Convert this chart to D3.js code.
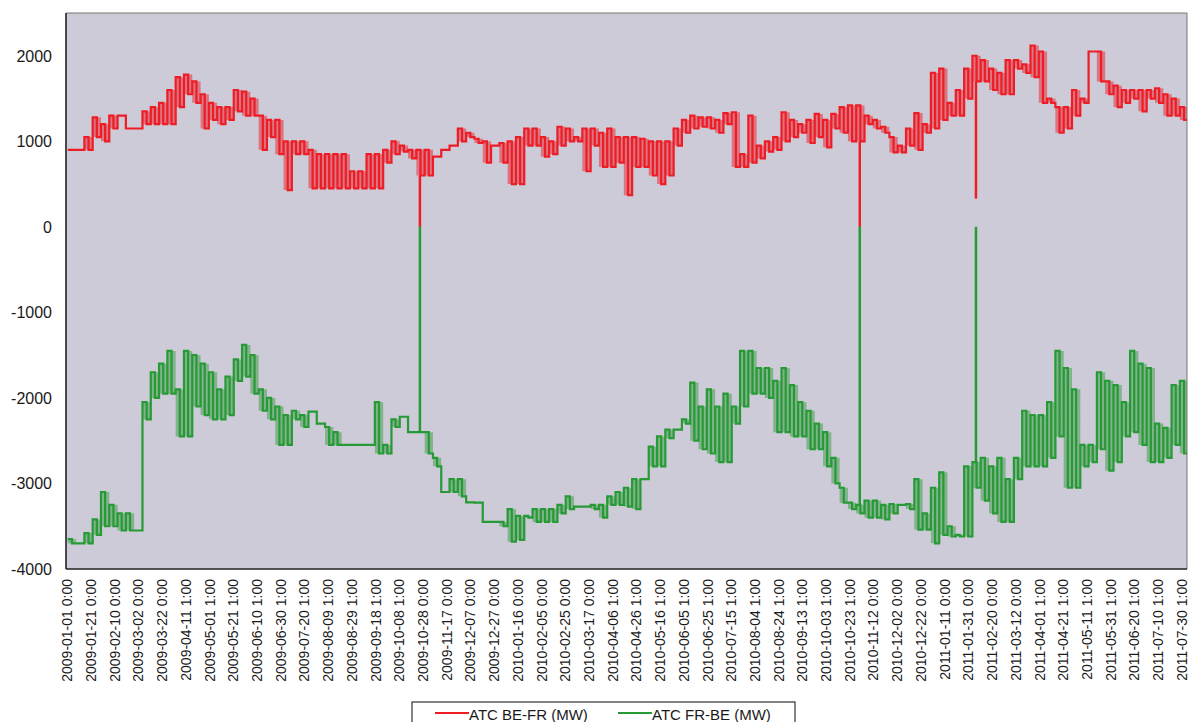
<!DOCTYPE html>
<html>
<head>
<meta charset="utf-8">
<script src="https://cdn.jsdelivr.net/npm/d3@7"></script>
<style>
  body { margin: 0; background: #fff; }
  svg { display: block; font-family: "Liberation Sans", Arial, sans-serif; }
</style>
</head>
<body>
<svg id="chart" width="1189" height="722"></svg>
<script>
// weekly bins, low / high value seen inside each week
const binStart = '2009-01-01';
const binDays = 7;

const beFrLo = [
  900, 900, 900, 1050, 1000, 1150, 1300, 1150, 1150, 1200,
  1200, 1200, 1200, 1400, 1550, 1450, 1150, 1250, 1200, 1250,
  1350, 1300, 1300, 900, 1050, 850, 430, 850, 850, 450,
  450, 450, 450, 450, 450, 450, 450, 450, 750, 850,
  880, 800, 600, 600, 820, 900, 950, 1000, 1050, 980,
  750, 950, 750, 500, 500, 950, 950, 820, 850, 950,
  1000, 1000, 650, 950, 700, 700, 750, 370, 700, 700,
  600, 500, 600, 950, 1100, 1150, 1170, 1150, 1100, 1200,
  700, 700, 750, 800, 880, 900, 1000, 1050, 1100, 980,
  1050, 930, 1150, 1100, 1000, 1000, 1200, 1150, 1100, 870,
  870, 950, 900, 1100, 1150, 1250, 1300, 1300, 1500, 1700,
  1700, 1600, 1550, 1550, 1850, 1800, 1750, 1450, 1450, 1100,
  1150, 1300, 1450, 2050, 1700, 1550, 1400, 1450, 1500, 1350,
  1500, 1450, 1300, 1300, 1250
];
const beFrHi = [
  900, 900, 1050, 1280, 1200, 1300, 1300, 1150, 1150, 1350,
  1400, 1450, 1600, 1750, 1780, 1700, 1550, 1450, 1400, 1400,
  1600, 1580, 1500, 1300, 1250, 1250, 1000, 1000, 1000, 900,
  850, 850, 850, 850, 650, 650, 850, 850, 900, 1000,
  950, 900, 900, 900, 820, 900, 950, 1150, 1100, 1030,
  1000, 950, 980, 1000, 1050, 1150, 1150, 1050, 1000, 1170,
  1150, 1050, 1150, 1150, 1100, 1150, 1050, 1050, 1050, 1030,
  1000, 1000, 1000, 1150, 1250, 1300, 1280, 1280, 1250, 1330,
  1340, 850, 1300, 950, 1000, 1050, 1340, 1250, 1200, 1250,
  1320, 1250, 1320, 1400, 1420, 1420, 1300, 1250, 1170, 1050,
  950, 1150, 1330, 1200, 1800, 1850, 1450, 1600, 1850, 2000,
  1950, 1850, 1800, 1950, 1950, 1900, 2120, 2050, 1500, 1400,
  1400, 1600, 1500, 2050, 2050, 1700, 1650, 1600, 1600, 1600,
  1600, 1620, 1550, 1500, 1400
];
const frBeLo = [
  -3700, -3700, -3700, -3600, -3500, -3500, -3550, -3550, -3550, -2250,
  -2000, -1950, -1950, -2450, -2450, -2100, -2200, -2250, -2250, -2200,
  -1800, -1750, -1950, -2150, -2250, -2550, -2550, -2250, -2340, -2160,
  -2300, -2550, -2550, -2550, -2550, -2550, -2550, -2650, -2650, -2340,
  -2220, -2400, -2400, -2650, -2800, -3100, -3100, -3150, -3220, -3225,
  -3450, -3450, -3500, -3680, -3660, -3400, -3450, -3450, -3450, -3350,
  -3300, -3270, -3270, -3300, -3400, -3250, -3250, -3270, -3300, -2950,
  -2800, -2800, -2470, -2370, -2300, -2500, -2600, -2650, -2750, -2750,
  -2300, -2100, -1950, -1950, -2000, -2400, -2400, -2450, -2450, -2600,
  -2600, -2800, -3000, -3225, -3300, -3350, -3400, -3400, -3420, -3350,
  -3250, -3300, -3540, -3540, -3700, -3600, -3620, -3620, -3620, -3050,
  -3200, -3350, -3450, -3450, -2950, -2800, -2800, -2800, -2700, -2450,
  -3050, -3050, -2800, -2750, -2600, -2850, -2750, -2450, -2400, -2550,
  -2750, -2750, -2700, -2550, -2650
];
const frBeHi = [
  -3650, -3700, -3580, -3420, -3100, -3250, -3350, -3350, -3550, -2050,
  -1700, -1600, -1450, -1900, -1450, -1500, -1600, -1700, -1900, -1750,
  -1550, -1380, -1500, -1900, -2000, -2100, -2200, -2150, -2200, -2160,
  -2300, -2340, -2400, -2550, -2550, -2550, -2550, -2050, -2550, -2250,
  -2220, -2400, -2400, -2400, -2700, -3100, -2950, -2950, -3220, -3225,
  -3450, -3450, -3450, -3300, -3380, -3380, -3300, -3300, -3300, -3250,
  -3150, -3270, -3270, -3250, -3250, -3150, -3100, -3050, -2950, -2950,
  -2570, -2450, -2370, -2370, -2250, -1820, -2100, -1900, -2100, -1950,
  -2100, -1450, -1450, -1650, -1650, -1800, -1650, -1850, -2050, -2150,
  -2300, -2400, -2700, -3050, -3225, -3250, -3200, -3200, -3250, -3240,
  -3250, -3240, -2950, -3350, -3050, -2870, -3500, -3600, -2800, -2750,
  -2700, -2800, -2700, -2950, -2700, -2150, -2200, -2200, -2050, -1450,
  -1650, -1900, -2550, -2550, -1700, -1800, -1850, -2050, -1450, -1600,
  -1650, -2300, -2350, -1850, -1800
];

// one-day drops at the clock changes
const spikeDates = ['2009-10-25', '2010-10-31', '2011-02-06'];
const beFrSpike = [0, 0, 330];
const frBeSpike = [0, 0, 0];

const yTicks = [-4000, -3000, -2000, -1000, 0, 1000, 2000];
const xTickLabels = [
  '2009-01-01 0:00', '2009-01-21 0:00', '2009-02-10 0:00', '2009-03-02 0:00', '2009-03-22 0:00',
  '2009-04-11 1:00', '2009-05-01 1:00', '2009-05-21 1:00', '2009-06-10 1:00', '2009-06-30 1:00',
  '2009-07-20 1:00', '2009-08-09 1:00', '2009-08-29 1:00', '2009-09-18 1:00', '2009-10-08 1:00',
  '2009-10-28 0:00', '2009-11-17 0:00', '2009-12-07 0:00', '2009-12-27 0:00', '2010-01-16 0:00',
  '2010-02-05 0:00', '2010-02-25 0:00', '2010-03-17 0:00', '2010-04-06 1:00', '2010-04-26 1:00',
  '2010-05-16 1:00', '2010-06-05 1:00', '2010-06-25 1:00', '2010-07-15 1:00', '2010-08-04 1:00',
  '2010-08-24 1:00', '2010-09-13 1:00', '2010-10-03 1:00', '2010-10-23 1:00', '2010-11-12 0:00',
  '2010-12-02 0:00', '2010-12-22 0:00', '2011-01-11 0:00', '2011-01-31 0:00', '2011-02-20 0:00',
  '2011-03-12 0:00', '2011-04-01 1:00', '2011-04-21 1:00', '2011-05-11 1:00', '2011-05-31 1:00',
  '2011-06-20 1:00', '2011-07-10 1:00', '2011-07-30 1:00'
];
const seriesNames = ['ATC BE-FR (MW)', 'ATC FR-BE (MW)'];
const seriesColors = ['#ee1c25', '#259a35'];
const fillColors = ['#e2505c', '#62a86c'];

const svg = d3.select('#chart');
const plotLeft = 66, plotTop = 13, plotRight = 1187, plotBottom = 569;

const parseDay = d3.utcParse('%Y-%m-%d');
const parseTick = d3.utcParse('%Y-%m-%d %H:%M');
const t0 = parseDay(binStart);
const tEnd = d3.utcDay.offset(t0, 944);

const x = d3.scaleUtc()
  .domain([d3.utcHour.offset(t0, -36), tEnd])
  .range([plotLeft, plotRight]);
const y = d3.scaleLinear().domain([-4000, 2500]).range([plotBottom, plotTop]);

svg.append('defs').append('clipPath').attr('id', 'plot')
  .append('rect')
    .attr('x', plotLeft).attr('y', plotTop)
    .attr('width', plotRight - plotLeft).attr('height', plotBottom - plotTop);

svg.append('rect')
  .attr('x', plotLeft).attr('y', plotTop)
  .attr('width', plotRight - plotLeft).attr('height', plotBottom - plotTop)
  .attr('fill', '#cdcbd7');

function bins(lo, hi) {
  let rows = lo.map((v, i) => ({ d: d3.utcDay.offset(t0, i * binDays), lo: v, hi: hi[i] }));
  let last = rows[rows.length - 1];
  rows.push({ d: tEnd, lo: last.lo, hi: last.hi });
  return rows;
}

// each week drawn as its high half then its low half
function teeth(lo, hi) {
  let pts = [];
  lo.forEach((v, i) => {
    let d = d3.utcDay.offset(t0, i * binDays);
    pts.push({ d: d, v: hi[i] });
    pts.push({ d: d3.utcHour.offset(d, binDays * 12), v: v });
  });
  pts.push({ d: tEnd, v: lo[lo.length - 1] });
  return pts;
}

const area = d3.area()
  .curve(d3.curveStepAfter)
  .x(d => x(d.d))
  .y0(d => y(d.lo))
  .y1(d => y(d.hi));

const line = d3.line()
  .curve(d3.curveStepAfter)
  .x(d => x(d.d))
  .y(d => y(d.v));

const plot = svg.append('g').attr('clip-path', 'url(#plot)');

[[beFrLo, beFrHi], [frBeLo, frBeHi]].forEach(([lo, hi], k) => {
  plot.append('path')
    .datum(bins(lo, hi))
    .attr('d', area)
    .attr('fill', fillColors[k])
    .attr('fill-opacity', 0.7)
    .attr('stroke', 'none');
  plot.append('path')
    .datum(teeth(lo, hi))
    .attr('d', line)
    .attr('fill', 'none')
    .attr('stroke', seriesColors[k])
    .attr('stroke-width', 2.2)
    .attr('stroke-linejoin', 'miter');
});

spikeDates.forEach((s, i) => {
  let d = parseDay(s);
  let b = Math.floor(d3.utcDay.count(t0, d) / binDays);
  plot.append('line')
    .attr('x1', x(d)).attr('x2', x(d))
    .attr('y1', y(beFrLo[b])).attr('y2', y(beFrSpike[i]))
    .attr('stroke', seriesColors[0]).attr('stroke-width', 2.5);
  plot.append('line')
    .attr('x1', x(d)).attr('x2', x(d))
    .attr('y1', y(frBeHi[b])).attr('y2', y(frBeSpike[i]))
    .attr('stroke', seriesColors[1]).attr('stroke-width', 2.5);
});

// frame
svg.append('line').attr('x1', plotLeft).attr('x2', plotRight).attr('y1', plotTop).attr('y2', plotTop)
  .attr('stroke', '#777').attr('stroke-width', 1);
svg.append('line').attr('x1', plotRight).attr('x2', plotRight).attr('y1', plotTop).attr('y2', plotBottom)
  .attr('stroke', '#777').attr('stroke-width', 1);
svg.append('line').attr('x1', plotLeft).attr('x2', plotLeft).attr('y1', plotTop).attr('y2', plotBottom)
  .attr('stroke', '#222').attr('stroke-width', 1.6);
svg.append('line').attr('x1', plotLeft).attr('x2', plotRight).attr('y1', plotBottom).attr('y2', plotBottom)
  .attr('stroke', '#222').attr('stroke-width', 1.6);

svg.append('g').selectAll('text')
  .data(yTicks)
  .enter().append('text')
    .attr('x', 52)
    .attr('y', d => y(d))
    .attr('dy', '0.36em')
    .attr('text-anchor', 'end')
    .attr('font-size', 16)
    .attr('fill', '#1a1a1a')
    .text(d => d);

svg.append('g').selectAll('text')
  .data(xTickLabels)
  .enter().append('text')
    .attr('transform', d => `translate(${x(parseTick(d)) + 4.5},579) rotate(-90)`)
    .attr('text-anchor', 'end')
    .attr('font-size', 14)
    .attr('fill', '#1a1a1a')
    .text(d => d);

// legend
const legend = svg.append('g');
legend.append('rect')
  .attr('x', 412).attr('y', 702).attr('width', 383).attr('height', 40)
  .attr('fill', '#fff').attr('stroke', '#333').attr('stroke-width', 1.2);
[435, 618].forEach((lx, k) => {
  legend.append('line')
    .attr('x1', lx).attr('x2', lx + 34).attr('y1', 713).attr('y2', 713)
    .attr('stroke', seriesColors[k]).attr('stroke-width', 2);
  legend.append('text')
    .attr('x', lx + 34).attr('y', 720)
    .attr('font-size', 15)
    .attr('fill', '#1a1a1a')
    .text(seriesNames[k]);
});
</script>
</body>
</html>
